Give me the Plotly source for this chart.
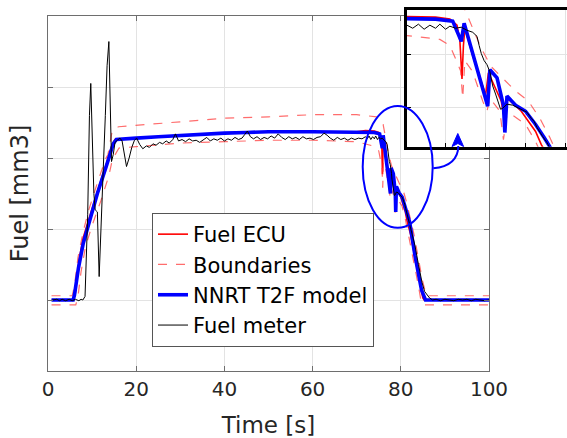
import plotly.graph_objects as go

W, H = 567, 438

# ---------------- data (time [s], fuel [arbitrary units]) ----------------
ecu_points = [(0.8, 1.0), (5.8, 1.0), (6.2, 1.1), (7.0, 1.55), (8.0, 1.88), (9.3, 2.15), (11.2, 2.53),
              (13.3, 2.93), (14.6, 3.20), (15.2, 3.26), (17, 3.27), (20, 3.28), (30, 3.32), (40, 3.35),
              (50, 3.37), (60, 3.37), (70, 3.37), (72, 3.385), (74, 3.38), (75.0, 3.36), (75.5, 3.30),
              (75.7, 3.15), (75.85, 2.77), (75.95, 3.10), (76.05, 3.27), (76.6, 3.00), (77.2, 2.75),
              (77.5, 2.61), (77.7, 2.83), (78.6, 2.55), (78.75, 2.42), (79.0, 2.58), (80.0, 2.45),
              (81.0, 2.25), (81.4, 2.12), (82.2, 1.93), (83.2, 1.60), (84.2, 1.27), (85.0, 1.03),
              (85.3, 1.0), (100, 1.0)]

upper_points = [(0.8, 1.06), (5.5, 1.06), (6.0, 1.20), (6.8, 1.60), (8.0, 1.97), (9.3, 2.28), (11.2, 2.65),
                (13.0, 2.98), (13.6, 3.05), (14.6, 3.40), (16, 3.44), (20, 3.46), (25, 3.49), (30, 3.51),
                (40, 3.56), (50, 3.58), (60, 3.61), (70, 3.61), (74.5, 3.58), (75.3, 3.51), (75.7, 3.47),
                (76.0, 3.47), (76.2, 3.40), (76.9, 3.17), (77.2, 3.07), (77.9, 2.89), (78.6, 2.79),
                (79.6, 2.65), (80.5, 2.55), (81.3, 2.38), (82.0, 2.19), (83.0, 1.92), (84.0, 1.58),
                (85.0, 1.25), (85.8, 1.06), (100, 1.06)]

lower_points = [(0.8, 0.93), (6.3, 0.93), (6.8, 1.05), (7.5, 1.40), (8.5, 1.75), (10, 2.05), (12, 2.40),
                (13.8, 2.75), (14.6, 2.98), (15.0, 3.02), (16.1, 3.14), (20, 3.16), (30, 3.21), (40, 3.23),
                (50, 3.25), (60, 3.25), (70, 3.23), (74.3, 3.16), (75.0, 3.10), (75.4, 2.97), (75.75, 2.85),
                (75.9, 2.58), (76.05, 2.95), (76.6, 2.84), (77.3, 2.55), (77.6, 2.45), (77.8, 2.58),
                (78.5, 2.45), (78.75, 2.17), (79.0, 2.42), (79.3, 2.42), (80.3, 2.32), (81.0, 2.15),
                (82.0, 1.85), (83.0, 1.52), (84.0, 1.20), (84.6, 0.98), (85.0, 0.93), (100, 0.93)]

model_points = [(0.8, 1.0), (5.7, 1.0), (6.0, 1.07), (6.9, 1.45), (8.0, 1.80), (9.3, 2.10), (11.2, 2.50),
                (13.3, 2.90), (14.8, 3.20), (15.5, 3.26), (17, 3.27), (20, 3.28), (25, 3.30), (30, 3.32),
                (35, 3.33), (40, 3.35), (45, 3.36), (50, 3.37), (60, 3.37), (70, 3.37), (74, 3.36),
                (75.2, 3.34), (75.8, 3.14), (76.0, 3.32), (77.2, 2.73), (77.65, 2.50), (77.8, 2.86),
                (78.3, 2.78), (78.75, 2.51), (78.85, 2.24), (79.0, 2.60), (79.6, 2.51), (80.3, 2.45),
                (81.0, 2.32), (81.6, 2.19), (82.0, 2.10), (83.2, 1.63), (84.7, 1.14), (85.6, 1.0), (100, 1.0)]

meter_points = [(1.0, 1.00), (2.0, 1.01), (2.6, 0.99), (3.2, 1.01), (4.0, 0.99), (4.8, 1.01), (5.5, 0.99),
                (6.2, 1.01), (7.0, 0.99), (7.5, 1.01), (7.9, 1.00), (8.4, 1.05), (9.0, 2.20), (9.4, 3.60),
                (9.7, 4.05), (10.0, 3.30), (10.4, 2.50), (10.7, 2.27), (11.2, 2.24), (11.6, 1.33), (12.0, 1.90),
                (12.5, 2.80), (13.0, 3.60), (13.4, 4.30), (13.8, 4.64), (14.1, 3.50), (14.4, 2.95), (14.8, 3.05),
                (15.2, 3.22), (15.7, 3.25), (16.3, 3.28), (16.8, 3.24), (17.3, 3.05), (17.8, 2.88), (18.4, 3.00),
                (19.0, 3.15), (19.6, 3.25), (20.1, 3.28), (20.8, 3.19), (21.5, 3.13), (22.3, 3.17), (23.0, 3.15),
                (23.8, 3.20), (24.5, 3.18), (25.3, 3.22), (26.0, 3.20), (26.8, 3.24), (27.5, 3.21), (28.3, 3.26),
                (28.9, 3.34), (29.6, 3.24), (30.4, 3.26), (31.2, 3.23), (32.0, 3.27), (32.8, 3.24), (33.6, 3.25),
                (34.4, 3.22), (35.2, 3.26), (36.0, 3.29), (36.8, 3.24), (37.6, 3.27), (38.4, 3.25), (39.2, 3.28),
                (40.0, 3.24), (40.8, 3.27), (41.6, 3.25), (42.4, 3.29), (43.2, 3.26), (44.0, 3.28), (44.6, 3.33),
                (45.2, 3.38), (45.9, 3.30), (46.6, 3.27), (47.4, 3.30), (48.2, 3.26), (49.0, 3.29), (49.8, 3.27),
                (50.6, 3.31), (51.4, 3.28), (52.2, 3.34), (53.0, 3.29), (53.8, 3.26), (54.6, 3.30), (55.4, 3.27),
                (56.2, 3.29), (57.0, 3.26), (57.8, 3.30), (58.6, 3.27), (59.4, 3.28), (60.2, 3.26), (61.0, 3.29),
                (61.8, 3.30), (62.6, 3.35), (63.3, 3.32), (64.0, 3.28), (64.8, 3.25), (65.6, 3.29), (66.4, 3.26),
                (67.2, 3.28), (68.0, 3.25), (68.8, 3.28), (69.6, 3.26), (70.4, 3.28), (71.2, 3.27), (72.0, 3.30),
                (72.4, 3.27), (72.8, 3.31), (73.2, 3.26), (73.6, 3.30), (74.0, 3.27), (74.3, 3.31), (74.7, 3.26),
                (75.0, 3.29), (75.4, 3.27), (75.8, 3.28), (76.2, 3.25), (76.6, 3.23), (76.9, 3.19), (77.05, 3.10),
                (77.2, 3.02), (77.4, 2.95), (77.6, 2.91), (77.8, 2.84), (77.9, 2.78), (78.0, 2.70), (78.2, 2.62),
                (78.4, 2.53), (78.55, 2.47), (78.7, 2.48), (79.0, 2.52), (79.4, 2.51), (79.7, 2.49), (80.0, 2.47),
                (80.2, 2.45), (80.4, 2.44), (80.7, 2.38), (80.9, 2.35), (81.1, 2.29), (81.3, 2.24), (81.5, 2.20),
                (81.8, 2.14), (82.4, 2.00), (83.2, 1.77), (84.0, 1.50), (84.8, 1.25), (85.4, 1.12), (85.8, 1.08),
                (86.5, 1.03), (87.2, 1.00), (88, 1.01), (89, 0.99), (90, 1.01), (91, 1.00), (92, 0.99), (93, 1.01),
                (94, 1.00), (95, 1.01), (96, 0.99), (97, 1.01), (98, 1.00), (99, 0.99), (100, 1.00)]

x_ticks = [0, 20, 40, 60, 80, 100]
y_grid = [0, 1, 2, 3, 4, 5]
main_x_range = [0, 100]
main_y_range = [0, 5]
inset_x_range = [72.0, 83.2]
inset_y_range = [2.10, 3.455]


def split(points):
    return [p[0] for p in points], [p[1] for p in points]


def px(x, y):
    """pixel position -> paper coordinates"""
    return x / W, 1 - y / H


FONT = "DejaVu Sans"
TXT = "#262626"

series = [
    ("Fuel ECU", ecu_points, dict(color="#ff0000", width=1.6), True, "ecu"),
    ("Boundaries", upper_points, dict(color="rgba(255,60,60,0.75)", width=1.2, dash="dash"), True, "bnd"),
    ("Boundaries", lower_points, dict(color="rgba(255,60,60,0.75)", width=1.2, dash="dash"), False, "bnd"),
    ("NNRT T2F model", model_points, dict(color="#0000ff", width=3.6), True, "nn"),
    ("Fuel meter", meter_points, dict(color="#000000", width=1.0), True, "fm"),
]

fig = go.Figure()
for name, pts, line, show, grp in series:
    xs, ys = split(pts)
    fig.add_trace(go.Scatter(x=xs, y=ys, mode="lines", name=name, line=line,
                             showlegend=show, legendgroup=grp, xaxis="x", yaxis="y"))
for name, pts, line, show, grp in series:
    xs, ys = split(pts)
    fig.add_trace(go.Scatter(x=xs, y=ys, mode="lines", name=name, line=line,
                             showlegend=False, legendgroup=grp, xaxis="x2", yaxis="y2"))

# pixel layout
main_l, main_r, main_t, main_b = 48, 489, 16, 371
ins_l, ins_r, ins_t, ins_b = 407, 567, 9.5, 146.7

axis_common = dict(showgrid=True, gridcolor="#e3e3e3", gridwidth=1, zeroline=False,
                   showline=True, linecolor="#6e6e6e", linewidth=1, mirror="allticks",
                   ticks="inside", ticklen=5, tickcolor="#6e6e6e")

fig.update_layout(
    width=W, height=H,
    margin=dict(l=0, r=0, t=0, b=0),
    paper_bgcolor="white", plot_bgcolor="white",
    font=dict(family=FONT, color=TXT),
    xaxis=dict(axis_common, domain=[main_l / W, main_r / W], range=main_x_range,
               tickmode="array", tickvals=x_ticks, ticktext=[str(v) for v in x_ticks],
               tickfont=dict(size=20, family=FONT, color=TXT),
               title=dict(text="Time [s]", font=dict(size=23, family=FONT, color=TXT), standoff=18),
               anchor="y", automargin=False),
    yaxis=dict(axis_common, domain=[1 - main_b / H, 1 - main_t / H], range=main_y_range,
               tickmode="array", tickvals=y_grid, showticklabels=False,
               title=dict(text="Fuel [mm3]", font=dict(size=24, family=FONT, color=TXT), standoff=11),
               anchor="x", automargin=False),
    xaxis2=dict(domain=[ins_l / W, 1.0], range=inset_x_range, anchor="y2",
                showgrid=True, gridcolor="#e3e3e3", zeroline=False,
                showline=True, linecolor="black", linewidth=2.5, mirror=True,
                ticks="inside", ticklen=4, tickcolor="black",
                tick0=74.68, dtick=2.8, showticklabels=False, automargin=False),
    yaxis2=dict(domain=[1 - ins_b / H, 1 - ins_t / H], range=inset_y_range, anchor="x2",
                showgrid=True, gridcolor="#e3e3e3", zeroline=False,
                showline=True, linecolor="black", linewidth=2.5, mirror=False,
                ticks="inside", ticklen=4, tickcolor="black",
                tick0=3.013, dtick=0.525, showticklabels=False, automargin=False),
    legend=dict(x=152 / W, y=1 - 213 / H, xanchor="left", yanchor="top",
                bgcolor="white", bordercolor="#555555", borderwidth=1,
                font=dict(size=21, family=FONT, color="black"), traceorder="normal",
                itemwidth=30),
    showlegend=True,
)

# highlight ellipse and curved arrow (paper coordinates built from pixel positions)
ex0, ey0 = px(362.7, 227.7)
ex1, ey1 = px(432.7, 106)
fig.add_shape(type="circle", xref="paper", yref="paper", x0=ex0, y0=ey0, x1=ex1, y1=ey1,
              line=dict(color="#0000ff", width=2), layer="above")

a0 = px(433.3, 168.3)
ac = px(458.0, 166.0)
a1 = px(458.3, 146.0)
fig.add_shape(type="path", xref="paper", yref="paper",
              path=f"M {a0[0]},{a0[1]} Q {ac[0]},{ac[1]} {a1[0]},{a1[1]}",
              line=dict(color="#0000ff", width=2), layer="above")
h_tip = px(457.8, 133.5)
h_l = px(452.0, 146.5)
h_r = px(463.6, 146.5)
h_m = px(457.9, 143.5)
fig.add_shape(type="path", xref="paper", yref="paper",
              path=f"M {h_tip[0]},{h_tip[1]} L {h_l[0]},{h_l[1]} L {h_m[0]},{h_m[1]} L {h_r[0]},{h_r[1]} Z",
              fillcolor="#0000ff", line=dict(color="#0000ff", width=1), layer="above")

fig.write_html("out.html")
